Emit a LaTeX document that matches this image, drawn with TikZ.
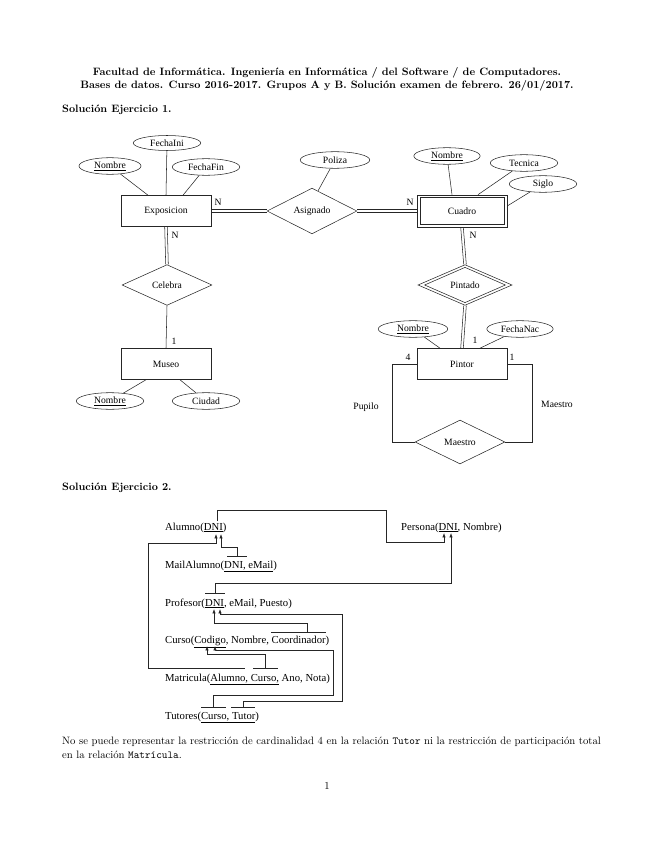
\documentclass[tikz,border=0pt]{standalone}
\usepackage{fontspec}
\newfontfamily\xfig{Liberation Serif}
\usetikzlibrary{shapes.geometric,calc,arrows.meta}
\begin{document}
\begin{tikzpicture}[x=0.9344pt,y=-0.9344pt,
  ln/.style={draw=black!85, line width=0.5pt},
  erfont/.style={font=\xfig\fontsize{9}{10}\selectfont},
  entity/.style={ln, erfont, rectangle, minimum width=84pt, minimum height=29pt, inner sep=0pt},
  attr/.style={ln, erfont, ellipse, minimum width=63pt, minimum height=15.5pt, inner sep=0pt},
  rel/.style={ln, erfont, diamond, minimum width=84pt, minimum height=41pt, inner sep=0pt},
  lbl/.style={erfont, inner sep=0pt},
  rtxt/.style={anchor=base west, inner sep=0pt, font=\xfig\fontsize{10}{12}\selectfont},
  fk/.style={ln, -{Latex[length=4pt,width=3pt]}},
  bar/.style={ln},
  hd/.style={font=\bfseries, anchor=base, inner sep=0pt},
  bd/.style={anchor=base west, inner sep=0pt}
]
\useasboundingbox (0,0) rectangle (655,848);

% ---------- header ----------
\node[hd] (h1) at (327,76) {Facultad de Informática. Ingeniería en Informática / del Software / de Computadores.};
\node[hd] (h2) at (327,89) {Bases de datos. Curso 2016-2017. Grupos A y B. Solución examen de febrero. 26/01/2017.};
\node[bd, font=\bfseries] (s1) at (62,113) {Solución Ejercicio 1.};

% ---------- ER diagram ----------
\node[entity] (expo) at (166,211) {Exposicion};
\node[attr, minimum width=58pt] (nom1) at (110,166) {\underline{Nombre}};
\node[attr, minimum height=14pt] (fini) at (167,143) {FechaIni};
\node[attr] (ffin) at (206,167) {FechaFin};
\node[rel] (asig) at (312,211) {Asignado};
\node[attr, minimum width=65pt] (poliza) at (335,160) {Poliza};
\node[entity, minimum height=30pt] (cuadro) at (462,211) {Cuadro};
\draw[ln] ($(cuadro.south west)+(3,-3)$) rectangle ($(cuadro.north east)+(-3,3)$);
\node[attr, minimum width=62pt] (nomc) at (447,156) {\underline{Nombre}};
\node[attr] (tec) at (524,163) {Tecnica};
\node[attr] (siglo) at (543,184) {Siglo};
\node[rel, minimum height=38pt] (celebra) at (167,285) {Celebra};
\node[entity] (museo) at (166,364) {Museo};
\node[attr] (nomm) at (110,401) {\underline{Nombre}};
\node[attr] (ciudad) at (206,401) {Ciudad};
\node[rel, minimum width=88pt, minimum height=38pt] (pintado) at (465,285) {Pintado};
\draw[ln] ($(pintado.north)+(0,3)$) -- ($(pintado.east)+(-7,0)$) -- ($(pintado.south)+(0,-3)$) -- ($(pintado.west)+(7,0)$) -- cycle;
\node[entity] (pintor) at (462,364) {Pintor};
\node[attr, minimum width=65pt] (nomp) at (413,329) {\underline{Nombre}};
\node[attr, minimum width=62pt] (fnac) at (520,329) {FechaNac};
\node[rel] (maestro) at (460,442) {Maestro};

% attribute links
\draw[ln] (nom1) -- ($(expo.north)+(-18,0)$);
\draw[ln] (fini) -- (expo.north);
\draw[ln] (ffin) -- ($(expo.north)+(17,0)$);
\draw[ln] (poliza) -- ($(asig.north)+(6,3)$);
\draw[ln] (nomc) -- ($(cuadro.north)+(-10,0)$);
\draw[ln] (tec) -- ($(cuadro.north)+(16,0)$);
\draw[ln] (siglo) -- ($(cuadro.east)+(0,-5)$);
\draw[ln] (nomm) -- ($(museo.south)+(-20,0)$);
\draw[ln] (ciudad) -- ($(museo.south)+(14,0)$);
\draw[ln] (nomp) -- ($(pintor.north)+(-22,0)$);
\draw[ln] (fnac) -- ($(pintor.north)+(18,0)$);

% relationship links (double lines drawn as two parallel strokes)
\draw[ln] ($(expo.east)+(0,-1.3)$) -- ($(asig.west)+(0,-1.3)$);
\draw[ln] ($(expo.east)+(0,1.3)$) -- ($(asig.west)+(0,1.3)$);
\draw[ln] ($(asig.east)+(0,-1.3)$) -- ($(cuadro.west)+(0,-1.3)$);
\draw[ln] ($(asig.east)+(0,1.3)$) -- ($(cuadro.west)+(0,1.3)$);
\draw[ln] ($(expo.south)+(-1.3,0)$) -- ($(celebra.north)+(-1.3,0)$);
\draw[ln] ($(expo.south)+(1.3,0)$) -- ($(celebra.north)+(1.3,0)$);
\draw[ln] (celebra.south) -- (museo.north);
\draw[ln] ($(cuadro.south)+(-1.3,0)$) -- ($(pintado.north)+(-1.3,0)$);
\draw[ln] ($(cuadro.south)+(1.3,0)$) -- ($(pintado.north)+(1.3,0)$);
\draw[ln] ($(pintado.south)+(-1.3,0)$) -- ($(pintor.north)+(-1.3,0)$);
\draw[ln] ($(pintado.south)+(1.3,0)$) -- ($(pintor.north)+(1.3,0)$);
\draw[ln] (pintor.west) -| ($(maestro.west)+(-23,0)$) -- (maestro.west);
\draw[ln] (pintor.east) -| ($(maestro.east)+(27,0)$) -- (maestro.east);

% cardinalities and roles
\node[lbl] (c1) at (218,202) {N};
\node[lbl] (c2) at (175,235) {N};
\node[lbl] (c3) at (410,202) {N};
\node[lbl] (c4) at (473,235) {N};
\node[lbl] (c5) at (174,341) {1};
\node[lbl] (c6) at (475,340) {1};
\node[lbl] (c7) at (408,357) {4};
\node[lbl] (c8) at (512,357) {1};
\node[lbl] (pupilo) at (366,407) {Pupilo};
\node[lbl] (rmaestro) at (557,404) {Maestro};

% ---------- Ejercicio 2 ----------
\node[bd, font=\bfseries] (s2) at (62,490) {Solución Ejercicio 2.};

\node[rtxt] (alumno) at (165,530) {Alumno(\underline{DNI})};
\node[rtxt] (persona) at (401,530) {Persona(\underline{DNI}, Nombre)};
\node[rtxt] (mail) at (165,568) {MailAlumno(\underline{DNI, eMail})};
\node[rtxt] (profesor) at (165,606) {Profesor(\underline{DNI}, eMail, Puesto)};
\node[rtxt] (curso) at (165,643.5) {Curso(\underline{Codigo}, Nombre, Coordinador)};
\node[rtxt] (matricula) at (165,681) {Matricula(\underline{Alumno, Curso,} Ano, Nota)};
\node[rtxt] (tutores) at (165,719) {Tutores(\underline{Curso, Tutor})};

% target points
\coordinate (pDNI1) at (444,533);
\coordinate (pDNI2) at (451,533);
\coordinate (aDNI1) at (216,534);
\coordinate (aDNI2) at (221,534);
\coordinate (prDNI1) at (214,609);
\coordinate (prDNI2) at (220,609);
\coordinate (cCod1) at (207,646);
\coordinate (cCod2) at (215,646);
% source points
\coordinate (aSrc) at (217,521);
\coordinate (mailDNI) at (237,556);
\coordinate (profDNI) at (215,593);
\coordinate (cursoCoord) at (307,632);
\coordinate (matAlumno) at (229,668);
\coordinate (matCurso) at (265,668);
\coordinate (tutCurso) at (213,707);
\coordinate (tutTutor) at (243,707);

% bars over foreign keys
\draw[bar] (227,556) -- (247,556);
\draw[bar] (205,593) -- (225,593);
\draw[bar] (271,632) -- (326,632);
\draw[bar] (210,668) -- (245,668);
\draw[bar] (253,668) -- (278,668);
\draw[bar] (201,707) -- (226,707);
\draw[bar] (231,707) -- (255,707);

\draw[fk] (aSrc) -- (217,510) -- (386,510) -- (386,542) -- (444,542) -- (pDNI1);
\draw[fk] (matAlumno) -- (148,668) -- (148,543) -- (216,543) -- (aDNI1);
\draw[fk] (matCurso) -- (265,654) -- (207,654) -- (cCod1);
\draw[fk] (mailDNI) -- (237,547) -- (221,547) -- (aDNI2);
\draw[fk] (profDNI) -- (215,583) -- (451,583) -- (pDNI2);
\draw[fk] (cursoCoord) -- (307,623) -- (214,623) -- (prDNI1);
\draw[fk] (tutTutor) -- (243,701) -- (342,701) -- (342,614) -- (220,614) -- (prDNI2);
\draw[fk] (tutCurso) -- (213,695) -- (333,695) -- (333,650) -- (215,650) -- (cCod2);

% ---------- footer text ----------
\node[bd] (p1) at (62,744) {No se puede representar la restricción de cardinalidad 4 en la relación \texttt{Tutor} ni la restricción de participación total};
\node[bd] (p2) at (62,758) {en la relación \texttt{Matrícula}.};
\node[anchor=base, inner sep=0pt] (pg) at (327,789) {1};
\end{tikzpicture}
\end{document}
